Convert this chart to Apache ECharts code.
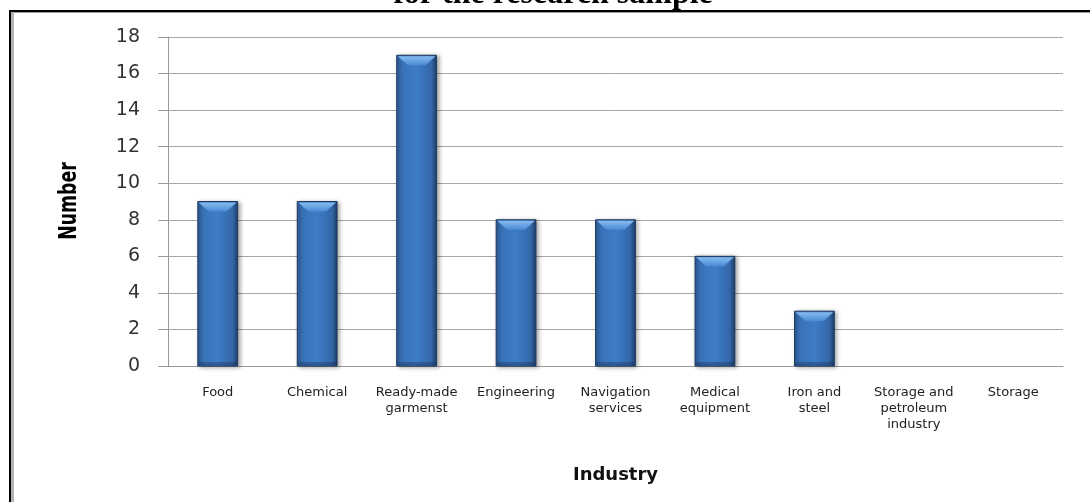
<!DOCTYPE html>
<html>
<head>
<meta charset="utf-8">
<style>
  html, body { margin: 0; padding: 0; background: #ffffff; }
  #chart { width: 1090px; height: 502px; }
</style>
<script src="https://cdn.jsdelivr.net/npm/echarts@6/dist/echarts.min.js"></script>
</head>
<body>
<div id="chart"></div>
<script>
// Industries in the research sample and number of companies in each
const categories = [
  'Food',
  'Chemical',
  'Ready-made\ngarmenst',
  'Engineering',
  'Navigation\nservices',
  'Medical\nequipment',
  'Iron and\nsteel',
  'Storage and\npetroleum\nindustry',
  'Storage'
];
const counts = [9, 9, 17, 8, 8, 6, 3, 0, 0];
const yTicks = { min: 0, max: 18, interval: 2 };

const chart = echarts.init(document.getElementById('chart'), null, { renderer: 'canvas' });

// Bevelled column: gradient body plus a lighter chamfer along the top edge
function renderColumn(params, api) {
  const v = api.value(1);
  if (!v) return null;
  const top = api.coord([api.value(0), v]);
  const base = api.coord([api.value(0), 0]);
  const w = api.size([1, 0])[0] * 0.4;
  const x = top[0] - w / 2;
  const y = top[1];
  const h = base[1] - top[1];
  const bev = Math.min(10, h / 2);
  const body = new echarts.graphic.LinearGradient(0, 0, 1, 0, [
    { offset: 0, color: '#2b5891' },
    { offset: 0.12, color: '#3971b6' },
    { offset: 0.5, color: '#3d7cc7' },
    { offset: 0.86, color: '#3467a8' },
    { offset: 1, color: '#1d3d69' }
  ]);
  const chamfer = new echarts.graphic.LinearGradient(0, 0, 0, 1, [
    { offset: 0, color: '#86bbf0' },
    { offset: 1, color: '#4a8ad4' }
  ]);
  return {
    type: 'group',
    children: [
      {
        type: 'rect',
        shape: { x: x, y: y, width: w, height: h },
        style: {
          fill: body,
          stroke: '#1c3960',
          lineWidth: 1,
          shadowBlur: 4,
          shadowOffsetX: 2,
          shadowOffsetY: 1,
          shadowColor: 'rgba(0,0,0,0.35)'
        }
      },
      {
        type: 'polygon',
        shape: { points: [[x + 1, y + 1], [x + w - 1, y + 1], [x + w - 1 - bev, y + bev], [x + 1 + bev, y + bev]] },
        style: { fill: chamfer }
      },
      {
        type: 'rect',
        shape: { x: x + 1, y: base[1] - 4, width: w - 2, height: 3 },
        style: { fill: 'rgba(20,40,70,0.3)' }
      }
    ]
  };
}

chart.setOption({
  animation: false,
  backgroundColor: '#ffffff',
  grid: { left: 168, right: 27, top: 37, bottom: 136, containLabel: false },
  graphic: [
    // caption line above the frame
    {
      type: 'text',
      x: 553, y: 11,
      z: 1,
      style: {
        text: 'for the research sample',
        font: 'bold 32px "Liberation Serif", "DejaVu Serif", serif',
        fill: '#000000',
        align: 'center',
        verticalAlign: 'bottom'
      }
    },
    // page frame
    { type: 'rect', z: 2, shape: { x: 9, y: 10, width: 1081, height: 2 }, style: { fill: '#000000' } },
    { type: 'rect', z: 2, shape: { x: 11, y: 12, width: 1079, height: 1 }, style: { fill: '#9a9a9a' } },
    { type: 'rect', z: 2, shape: { x: 9, y: 10, width: 2, height: 492 }, style: { fill: '#000000' } },
    { type: 'rect', z: 2, shape: { x: 11, y: 12, width: 3, height: 490 }, style: { fill: '#b4b4b4' } },
    // y-axis title
    {
      type: 'text',
      x: 70, y: 201,
      rotation: Math.PI / 2,
      scaleX: 0.72,
      style: {
        text: 'Number',
        font: 'bold 24px "DejaVu Sans", sans-serif',
        fill: '#000000',
        align: 'center',
        verticalAlign: 'middle'
      }
    }
  ],
  xAxis: {
    type: 'category',
    data: categories,
    name: 'Industry',
    nameLocation: 'middle',
    nameGap: 100,
    nameTextStyle: {
      fontFamily: '"DejaVu Sans", sans-serif',
      fontWeight: 'bold',
      fontSize: 18,
      color: '#111111'
    },
    axisLine: { show: true, lineStyle: { color: '#9a9a9a', width: 1 } },
    axisTick: { show: false },
    axisLabel: {
      interval: 0,
      margin: 19,
      fontFamily: '"DejaVu Sans", sans-serif',
      fontSize: 13,
      lineHeight: 16,
      color: '#222222',
      align: 'center'
    }
  },
  yAxis: {
    type: 'value',
    min: yTicks.min,
    max: yTicks.max,
    interval: yTicks.interval,
    axisLine: { show: true, lineStyle: { color: '#9a9a9a', width: 1 } },
    axisTick: { show: true, length: 10, lineStyle: { color: '#9a9a9a' } },
    axisLabel: {
      margin: 28,
      fontFamily: '"DejaVu Sans", sans-serif',
      fontSize: 19,
      color: '#333333'
    },
    splitLine: { show: true, lineStyle: { color: '#a6a6a6', width: 1 } }
  },
  series: [{
    type: 'custom',
    renderItem: renderColumn,
    encode: { x: 0, y: 1 },
    data: counts.map((v, i) => [i, v]),
    z: 3
  }]
});
</script>
</body>
</html>
